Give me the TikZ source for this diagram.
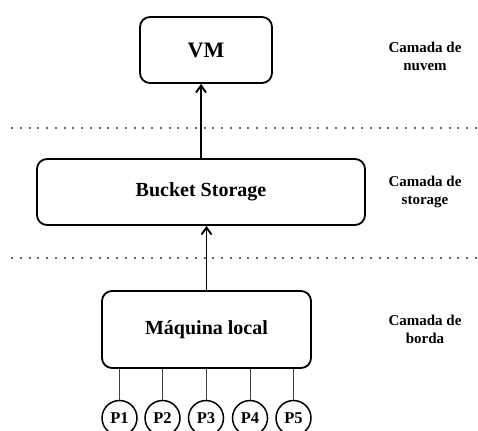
\documentclass[tikz,border=0pt]{standalone}
\usepackage{fontspec}
\setmainfont{Liberation Serif}
\usetikzlibrary{arrows.meta}
\tikzset{
  box/.style={draw, line width=1.8pt, rounded corners=10pt, inner sep=0pt, font=\bfseries\fontsize{20}{22}\selectfont},
  pc/.style={draw, circle, line width=1.5pt, minimum size=35pt, inner sep=0pt, font=\bfseries\fontsize{16.5}{18}\selectfont},
  layer/.style={align=center, font=\bfseries\fontsize{15}{18}\selectfont},
  sep/.style={line width=2pt, dash pattern=on 2pt off 6.75pt, gray!80!black},
  arr/.style={line width=1.9pt, -{Straight Barb[length=7pt,width=10pt,line width=1.9pt]}},
  link/.style={line width=1pt, black!75}
}
\begin{document}
\begin{tikzpicture}[x=1pt,y=-1pt]
\useasboundingbox (0,0) rectangle (478,430);
\node[box, minimum width=132pt, minimum height=66pt, font=\bfseries\fontsize{22}{24}\selectfont] (vm) at (206,50) {VM};
\node[box, minimum width=328pt, minimum height=66pt] (bucket) at (201,192) {Bucket Storage};
\node[box, minimum width=209pt, minimum height=77pt] (maq) at (206.5,329.5) {Máquina local};
\node[layer] (l1) at (425,56) {Camada de\\nuvem};
\node[layer] (l2) at (425,191.5) {Camada de\\storage};
\node[layer] (l3) at (425,329) {Camada de\\borda};
\coordinate (d1a) at (11,128);
\coordinate (d1b) at (478,128);
\coordinate (d2a) at (11,258);
\coordinate (d2b) at (478,258);
\draw[sep] (d1a) -- (d1b);
\draw[sep] (d2a) -- (d2b);
\draw[arr] (bucket.north) -- (bucket.north |- vm.south);
\draw[arr] (maq.north) -- (maq.north |- bucket.south);
\foreach \i/\x in {1/119.5,2/162.5,3/206,4/250,5/293.5}{
  \node[pc] (p\i) at (\x,418) {P\i};
  \draw[link] (p\i.north) -- (p\i.north |- maq.south);
}
\end{tikzpicture}
\end{document}
